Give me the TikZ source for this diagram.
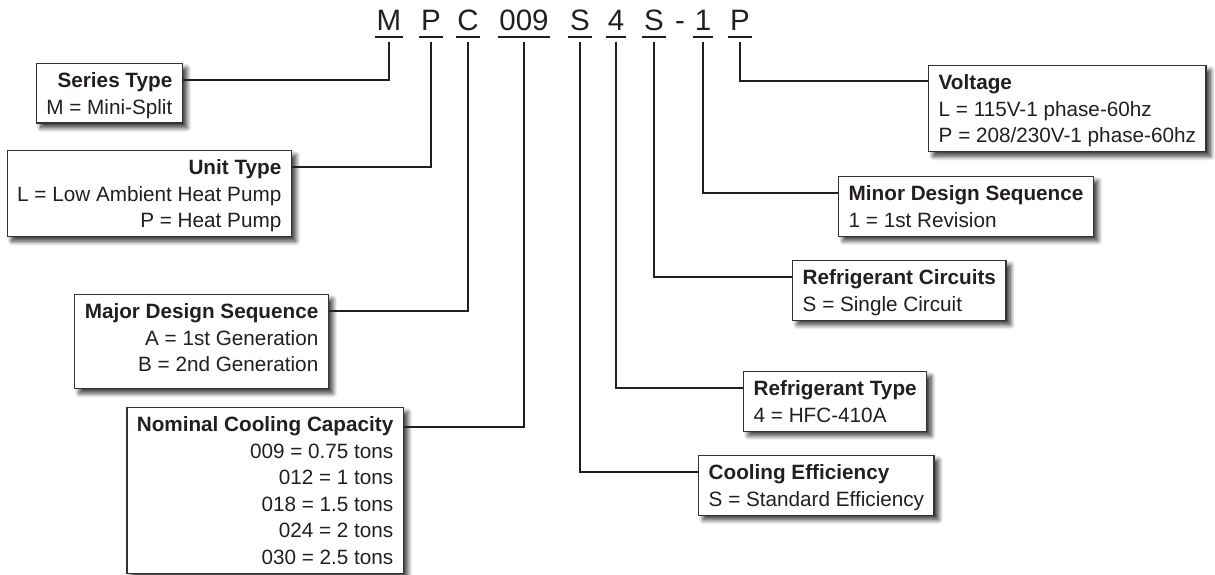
\documentclass[tikz,border=0pt]{standalone}
\usepackage{fontspec}
\setmainfont{Liberation Sans}
\usetikzlibrary{shadows.blur}
\definecolor{ink}{HTML}{231F20}
\definecolor{edge}{HTML}{333333}
\newcommand\mytop{\rule{0pt}{24pt}}
\newcommand\mybot[1][9pt]{\rule[-#1]{0pt}{#1}}
\begin{document}
\begin{tikzpicture}[x=1pt,y=-1pt,
  code/.style={anchor=base, inner xsep=1.5pt, inner ysep=0pt, font=\fontsize{29.5}{34}\selectfont, text=ink},
  lbox/.style={draw=edge, line width=1.4pt, fill=white, inner xsep=10pt, inner ysep=0pt,
    font=\fontsize{20.7}{26.5}\selectfont, text=ink,
    blur shadow={shadow xshift=4.5pt, shadow yshift=-4.5pt, shadow blur steps=12, shadow blur radius=4.5pt, shadow opacity=80}},
  lft/.style={lbox, align=right, anchor=north east},
  rgt/.style={lbox, align=left, anchor=north west},
  conn/.style={draw=ink, line width=2.4pt},
  uline/.style={draw=ink, line width=2pt}]
\useasboundingbox (0,0) rectangle (1215,575);

% model code letters
\node[code] (cM) at (389,31) {M};
\node[code] (cP) at (431,31) {P};
\node[code] (cC) at (468,31) {C};
\node[code] (cN) at (524,31) {009};
\node[code] (cS) at (580,31) {S};
\node[code] (cF) at (616,31) {4};
\node[code] (cR) at (654,31) {S};
\node[code] (cH) at (680,31) {-};
\node[code] (cO) at (703,31) {1};
\node[code] (cV) at (740,31) {P};
\foreach \n in {cM,cP,cC,cN,cS,cF,cR,cO,cV}
  \draw[uline] ([yshift=-6pt]\n.base west) -- ([yshift=-6pt]\n.base east);

% boxes
\node[lft] (series) at (183,63) {\mytop\textbf{Series Type}\\M = Mini-Split\mybot};
\node[lft] (unit) at (292,150) {\mytop\textbf{Unit Type}\\L = Low Ambient Heat Pump\\P = Heat Pump\mybot};
\node[lft] (major) at (329,294) {\mytop\textbf{Major Design Sequence}\\A = 1st Generation\\B = 2nd Generation\mybot[17pt]};
\node[lft] (nominal) at (404,407) {\mytop\textbf{Nominal Cooling Capacity}\\009 = 0.75 tons\\012 = 1 tons\\018 = 1.5 tons\\024 = 2 tons\\030 = 2.5 tons\mybot};
\node[rgt] (volt) at (928,65) {\mytop\textbf{Voltage}\\L = 115V-1 phase-60hz\\P = 208/230V-1 phase-60hz\mybot};
\node[rgt] (minor) at (838,176) {\mytop\textbf{Minor Design Sequence}\\1 = 1st Revision\mybot};
\node[rgt] (circ) at (792,260) {\mytop\textbf{Refrigerant Circuits}\\S = Single Circuit\mybot};
\node[rgt] (rtype) at (743,371) {\mytop\textbf{Refrigerant Type}\\4 = HFC-410A\mybot};
\node[rgt] (eff) at (698,455) {\mytop\textbf{Cooling Efficiency}\\S = Standard Efficiency\mybot};

% connectors
\draw[conn] ([yshift=-11pt]cM.base) |- ([yshift=-17pt]series.north east);
\draw[conn] ([yshift=-11pt]cP.base) |- ([yshift=-17pt]unit.north east);
\draw[conn] ([yshift=-11pt]cC.base) |- ([yshift=-17pt]major.north east);
\draw[conn] ([yshift=-11pt]cN.base) |- ([yshift=-20pt]nominal.north east);
\draw[conn] ([yshift=-11pt]cS.base) |- ([yshift=-17pt]eff.north west);
\draw[conn] ([yshift=-11pt]cF.base) |- ([yshift=-17pt]rtype.north west);
\draw[conn] ([yshift=-11pt]cR.base) |- ([yshift=-17pt]circ.north west);
\draw[conn] ([yshift=-11pt]cO.base) |- ([yshift=-17pt]minor.north west);
\draw[conn] ([yshift=-11pt]cV.base) |- ([yshift=-16pt]volt.north west);
\end{tikzpicture}
\end{document}
